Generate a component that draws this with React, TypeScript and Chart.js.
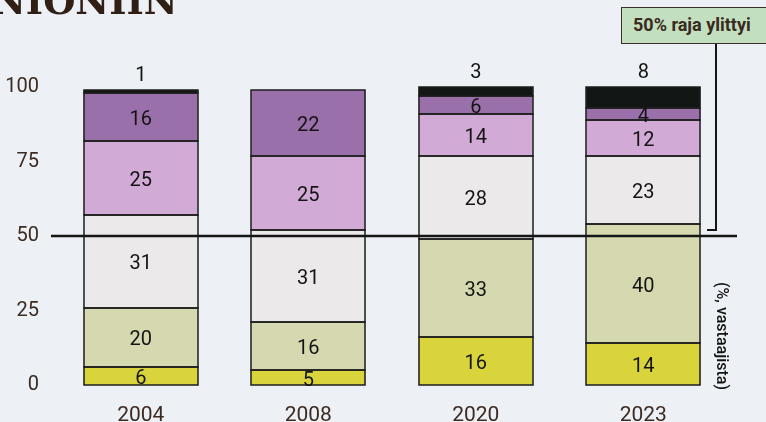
import React, { useEffect, useRef } from 'react';
import { Chart, registerables } from 'chart.js';

Chart.register(...registerables);

const years = ['2004', '2008', '2020', '2023'];
const yellowVals = [6, 5, 16, 14];
const greenVals = [20, 16, 33, 40];
const whiteVals = [31, 31, 28, 23];
const pinkVals = [25, 25, 14, 12];
const purpleVals = [16, 22, 6, 4];
const blackVals = [1, 0, 3, 8];
const yTicks = [0, 25, 50, 75, 100];
const thresholdValue = 50;

const titleText = 'NIONIIN';
const annotationText = '50% raja ylittyi';
const unitText = '(%, vastaajista)';

const BG = '#edf0f5';

const overlay = {
  id: 'overlay',
  afterDatasetsDraw(chart: any) {
    const ctx = chart.ctx;
    const y = chart.scales.y;
    const area = chart.chartArea;
    const y50 = y.getPixelForValue(thresholdValue);
    ctx.save();
    // segment outlines
    ctx.strokeStyle = '#1c1c1c';
    ctx.lineWidth = 1.5;
    chart.data.datasets.forEach((ds: any, i: number) => {
      const meta = chart.getDatasetMeta(i);
      meta.data.forEach((bar: any, j: number) => {
        if (!ds.data[j]) return;
        const l = Math.round(bar.x - bar.width / 2);
        const r = Math.round(bar.x + bar.width / 2);
        const t = Math.round(Math.max(area.top, Math.min(bar.y, bar.base)));
        const b = Math.round(Math.max(bar.y, bar.base));
        ctx.strokeRect(l, t, r - l, b - t);
      });
    });
    // threshold line
    ctx.strokeStyle = '#151515';
    ctx.lineWidth = 2.5;
    ctx.beginPath();
    ctx.moveTo(51, y50);
    ctx.lineTo(737, y50);
    ctx.stroke();
    ctx.lineWidth = 2;
    ctx.beginPath();
    ctx.moveTo(716, 44);
    ctx.lineTo(716, y50 - 6);
    ctx.lineTo(707, y50 - 6);
    ctx.stroke();
    // value labels
    ctx.fillStyle = '#141414';
    ctx.font = '20px Roboto';
    ctx.textAlign = 'center';
    ctx.textBaseline = 'middle';
    const n = chart.data.datasets.length;
    chart.data.datasets.forEach((ds: any, i: number) => {
      const meta = chart.getDatasetMeta(i);
      meta.data.forEach((bar: any, j: number) => {
        const v = ds.data[j];
        if (!v) return;
        let ly;
        if (i === n - 1) ly = Math.max(area.top, Math.min(bar.y, bar.base)) - 14;
        else ly = (bar.y + bar.base) / 2 + 3;
        ctx.fillText(String(v), bar.x, ly);
      });
    });
    ctx.restore();
  },
};

export default function App() {
  const ref = useRef<HTMLCanvasElement>(null);
  useEffect(() => {
    const mk = (label: string, data: number[], color: string) => ({
      label,
      data,
      backgroundColor: color,
      borderWidth: 0,
      barPercentage: 0.682,
      categoryPercentage: 1,
    });
    const chart = new Chart(ref.current!, {
      type: 'bar',
      data: {
        labels: years,
        datasets: [
          mk('a', yellowVals, '#dad43c'),
          mk('b', greenVals, '#d6d8b0'),
          mk('c', whiteVals, '#ece9ea'),
          mk('d', pinkVals, '#d1aad6'),
          mk('e', purpleVals, '#9a70aa'),
          mk('f', blackVals, '#121614'),
        ],
      },
      options: {
        animation: false,
        responsive: false,
        maintainAspectRatio: false,
        layout: { padding: { top: 87, right: 39, left: 0, bottom: 0 } },
        plugins: { legend: { display: false }, tooltip: { enabled: false } },
        scales: {
          x: {
            stacked: true,
            grid: { display: false, drawTicks: false },
            border: { display: false },
            ticks: { font: { family: 'Roboto', size: 21 }, color: '#3b2b22', padding: 18 },
            afterFit: (s: any) => {
              s.height = 37;
            },
          },
          y: {
            stacked: true,
            min: 0,
            max: 100,
            afterBuildTicks: (s: any) => {
              s.ticks = yTicks.map((v) => ({ value: v }));
            },
            grid: { display: false, drawTicks: false },
            border: { display: false },
            ticks: { font: { family: 'Roboto', size: 20 }, color: '#3b2b22', padding: 18 },
            afterFit: (s: any) => {
              s.width = 57;
            },
          },
        },
      } as any,
      plugins: [overlay],
    });
    return () => chart.destroy();
  }, []);

  return (
    <div
      style={{
        position: 'fixed',
        left: 0,
        top: 0,
        width: 766,
        height: 422,
        overflow: 'hidden',
        background: BG,
      }}
    >
      <canvas ref={ref} width={766} height={422} style={{ position: 'absolute', left: 0, top: 0 }} />
      <div
        style={{
          position: 'absolute',
          left: -8,
          top: -17,
          fontFamily: '"DejaVu Serif"',
          fontWeight: 'bold',
          fontSize: 37,
          lineHeight: 1,
          color: '#2f1f14',
          whiteSpace: 'nowrap',
        }}
      >
        {titleText}
      </div>
      <div
        style={{
          position: 'absolute',
          left: 621,
          top: 7,
          width: 160,
          height: 37,
          boxSizing: 'border-box',
          background: '#c2e0bf',
          border: '1.5px solid #3a3028',
          fontFamily: 'Roboto',
          fontWeight: 'bold',
          fontSize: 18,
          color: '#3a2a20',
          lineHeight: '34px',
          paddingLeft: 11,
          whiteSpace: 'nowrap',
        }}
      >
        {annotationText}
      </div>
      <div
        style={{
          position: 'absolute',
          left: 714,
          top: 282,
          writingMode: 'vertical-rl',
          fontFamily: 'Roboto',
          fontWeight: 500,
          fontSize: 16,
          color: '#141414',
          lineHeight: 1,
          whiteSpace: 'nowrap',
        }}
      >
        {unitText}
      </div>
    </div>
  );
}
